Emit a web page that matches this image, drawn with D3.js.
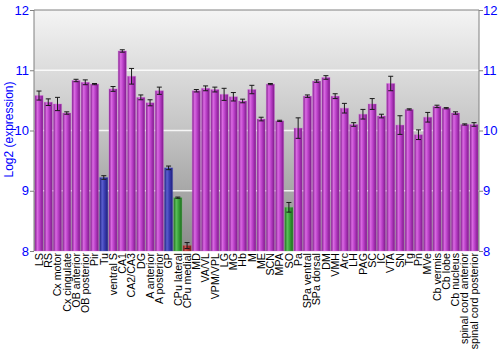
<!DOCTYPE html>
<html>
<head>
<meta charset="utf-8">
<script src="https://cdn.jsdelivr.net/npm/d3@7"></script>
<style>
  html, body { margin: 0; padding: 0; background: #fff; }
  svg { display: block; font-family: "Liberation Sans", Arial, sans-serif; }
</style>
</head>
<body>
<svg id="chart" width="500" height="350"></svg>
<script>
// Brain regions along the x axis
const regions = ["LS", "RS", "Cx motor", "Cx cingulate", "OB anterior", "OB posterior", "Pir", "Tu",
  "ventral S", "CA1", "CA2/CA3", "DG", "A anterior", "A posterior", "GP", "CPu lateral", "CPu medial",
  "MD", "VA/VL", "VPM/VPL", "LG", "MG", "Hb", "M", "ME", "SCN", "MPA", "SO", "Pa", "SPa ventral",
  "SPa dorsal", "DM", "VMH", "Arc", "LH", "PAG", "SC", "IC", "VTA", "SN", "Tg", "Pn", "MVe",
  "Cb vermis", "Cb lobe", "Cb nucleus", "spinal cord anterior", "spinal cord posterior"];

// Mean log2 expression per region
const expression = [10.58, 10.47, 10.44, 10.29, 10.83, 10.80, 10.77, 9.22,
  10.69, 11.32, 10.90, 10.55, 10.46, 10.66, 9.38, 8.885, 8.09,
  10.66, 10.70, 10.68, 10.60, 10.56, 10.49, 10.68, 10.19, 10.77, 10.16, 8.725, 10.04, 10.57,
  10.82, 10.88, 10.57, 10.37, 10.10, 10.27, 10.44, 10.24, 10.78, 10.09, 10.35, 9.93, 10.22,
  10.40, 10.37, 10.29, 10.10, 10.10];

// Half-width of the error bar per region
const errors = [0.075, 0.055, 0.11, 0.02, 0.02, 0.04, 0.01, 0.03,
  0.04, 0.02, 0.13, 0.04, 0.05, 0.06, 0.03, 0.01, 0.05,
  0.02, 0.04, 0.04, 0.10, 0.07, 0.03, 0.07, 0.03, 0.01, 0.01, 0.08, 0.17, 0.02,
  0.02, 0.03, 0.04, 0.08, 0.03, 0.08, 0.09, 0.03, 0.12, 0.155, 0.01, 0.08, 0.08,
  0.02, 0.01, 0.02, 0.01, 0.03];

// Colour group per region: m = magenta, b = blue, g = green, r = red
const groups = ["m", "m", "m", "m", "m", "m", "m", "b",
  "m", "m", "m", "m", "m", "m", "b", "g", "r",
  "m", "m", "m", "m", "m", "m", "m", "m", "m", "m", "g", "m", "m",
  "m", "m", "m", "m", "m", "m", "m", "m", "m", "m", "m", "m", "m",
  "m", "m", "m", "m", "m"];

const yTicks = [8, 9, 10, 11, 12];
const yDomain = [8, 12];

const palette = {
  m: { dark: "#7c1888", mid: "#b83ec6", light: "#da6ae2" },
  b: { dark: "#1e1f7a", mid: "#3a3cb0", light: "#5b5fd0" },
  g: { dark: "#1d6a1d", mid: "#38a038", light: "#5cc05c" },
  r: { dark: "#6e1a1a", mid: "#b03030", light: "#cc5050" }
};

const svg = d3.select("#chart");
const margin = { top: 10, right: 21, bottom: 99, left: 34 };
const W = 500, H = 350;
const innerW = W - margin.left - margin.right;
const innerH = H - margin.top - margin.bottom;

const x = d3.scaleBand().domain(regions).range([margin.left, margin.left + innerW]).paddingInner(0.12).paddingOuter(0.1);
const y = d3.scaleLinear().domain(yDomain).range([margin.top + innerH, margin.top]);

const defs = svg.append("defs");
const bg = defs.append("linearGradient").attr("id", "bg").attr("x1", 0).attr("y1", 0).attr("x2", 0).attr("y2", 1);
bg.append("stop").attr("offset", "0%").attr("stop-color", "#f4f4f4");
bg.append("stop").attr("offset", "50%").attr("stop-color", "#c4c4c4");
bg.append("stop").attr("offset", "100%").attr("stop-color", "#8a8a8a");

Object.entries(palette).forEach(([k, c]) => {
  const g = defs.append("linearGradient").attr("id", "bar-" + k).attr("x1", 0).attr("y1", 0).attr("x2", 1).attr("y2", 0);
  g.append("stop").attr("offset", "0%").attr("stop-color", c.dark);
  g.append("stop").attr("offset", "30%").attr("stop-color", c.light);
  g.append("stop").attr("offset", "60%").attr("stop-color", c.mid);
  g.append("stop").attr("offset", "100%").attr("stop-color", c.dark);
});

// Plot background
svg.append("rect")
  .attr("x", margin.left).attr("y", margin.top)
  .attr("width", innerW).attr("height", innerH)
  .attr("fill", "url(#bg)");

// Horizontal grid lines
svg.append("g").selectAll("line")
  .data(yTicks.filter(t => t > yDomain[0] && t < yDomain[1]))
  .join("line")
  .attr("x1", margin.left).attr("x2", margin.left + innerW)
  .attr("y1", d => y(d)).attr("y2", d => y(d))
  .attr("stroke", "#ffffff").attr("stroke-opacity", 0.85).attr("stroke-width", 1.5);

// Bars
const data = regions.map((r, i) => ({ region: r, value: expression[i], err: errors[i], group: groups[i] }));

svg.append("g").selectAll("rect")
  .data(data)
  .join("rect")
  .attr("x", d => x(d.region))
  .attr("y", d => y(d.value))
  .attr("width", x.bandwidth())
  .attr("height", d => y(yDomain[0]) - y(d.value))
  .attr("fill", d => `url(#bar-${d.group})`)
  .attr("stroke", d => palette[d.group].light)
  .attr("stroke-opacity", 0.35)
  .attr("stroke-width", 1);

// Error bars
const eb = svg.append("g").attr("stroke", "#1a1a1a").attr("stroke-width", 1);
data.forEach(d => {
  const cx = x(d.region) + x.bandwidth() / 2;
  const y0 = y(d.value - d.err), y1 = y(d.value + d.err);
  eb.append("line").attr("x1", cx).attr("x2", cx).attr("y1", y0).attr("y2", y1);
  eb.append("line").attr("x1", cx - 2.5).attr("x2", cx + 2.5).attr("y1", y0).attr("y2", y0);
  eb.append("line").attr("x1", cx - 2.5).attr("x2", cx + 2.5).attr("y1", y1).attr("y2", y1);
});

// Frame: top, left and right
svg.append("path")
  .attr("d", `M${margin.left},${margin.top + innerH}V${margin.top}H${margin.left + innerW}V${margin.top + innerH}`)
  .attr("fill", "none").attr("stroke", "#808080").attr("stroke-width", 1);

// Y axes on both sides
const styleAxis = g => {
  g.select(".domain").remove();
  g.selectAll(".tick line").attr("stroke", "#808080");
  g.selectAll(".tick text").attr("fill", "#0000ff").style("font-size", "13px");
};
svg.append("g")
  .attr("transform", `translate(${margin.left},0)`)
  .call(d3.axisLeft(y).tickValues(yTicks).tickSize(4).tickPadding(1).tickFormat(d3.format("d")))
  .call(styleAxis);
svg.append("g")
  .attr("transform", `translate(${margin.left + innerW},0)`)
  .call(d3.axisRight(y).tickValues(yTicks).tickSize(4).tickPadding(0).tickFormat(d3.format("d")))
  .call(styleAxis);

// X axis labels, rotated
const xa = svg.append("g")
  .attr("transform", `translate(0,${margin.top + innerH})`)
  .call(d3.axisBottom(x).tickSize(0).tickPadding(0));
xa.select(".domain").remove();
xa.selectAll(".tick text")
  .attr("fill", "#000")
  .style("font-size", "10.7px")
  .attr("transform", "rotate(-90)")
  .attr("text-anchor", "end")
  .attr("dy", "0.35em")
  .attr("x", -2)
  .attr("y", 0);

// Y title
svg.append("text")
  .attr("transform", `translate(13,${margin.top + innerH / 2 - 1}) rotate(-90)`)
  .attr("text-anchor", "middle")
  .attr("fill", "#0000ff")
  .style("font-size", "12px")
  .text("Log2 (expression)");
</script>
</body>
</html>
